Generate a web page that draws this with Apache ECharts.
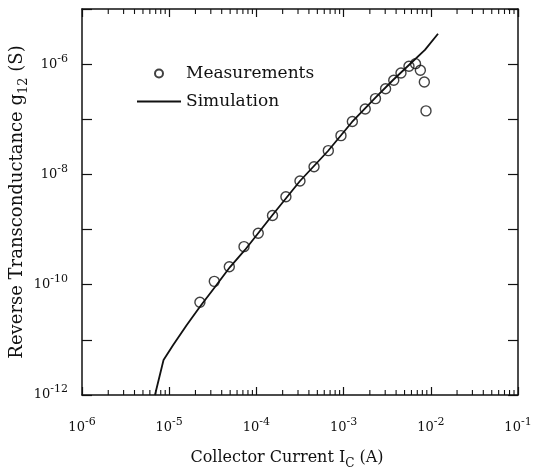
<!DOCTYPE html>
<html>
<head>
<meta charset="utf-8">
<script src="https://cdn.jsdelivr.net/npm/echarts@6/dist/echarts.min.js"></script>
<style>
html, body { margin: 0; padding: 0; background: #fff; }
#chart { width: 536px; height: 473px; }
</style>
</head>
<body>
<div id="chart"></div>
<script>
// measured points: collector current (A) and reverse transconductance (S)
var measCurrent = [2.25e-5, 3.29e-5, 4.89e-5, 7.21e-5, 1.05e-4, 1.53e-4, 2.18e-4, 3.16e-4,
    4.58e-4, 6.68e-4, 9.33e-4, 1.26e-3, 1.77e-3, 2.32e-3, 3.03e-3, 3.76e-3,
    4.55e-3, 5.62e-3, 6.68e-3, 7.59e-3, 8.43e-3, 8.81e-3];
var measG12 = [4.8e-11, 1.15e-10, 2.12e-10, 4.9e-10, 8.6e-10, 1.8e-9, 3.94e-9, 7.6e-9,
    1.38e-8, 2.7e-8, 5.05e-8, 9.1e-8, 1.54e-7, 2.37e-7, 3.57e-7, 5.09e-7,
    6.92e-7, 9.14e-7, 1.02e-6, 7.74e-7, 4.74e-7, 1.42e-7];

// simulated curve
var simCurrent = [6.87e-6, 8.61e-6, 1.11e-5, 1.59e-5, 2.25e-5, 3.35e-5, 4.98e-5, 7.39e-5,
    1.53e-4, 3.16e-4, 6.62e-4, 1.25e-3, 2.29e-3, 3.69e-3, 5.62e-3, 8.57e-3, 1.21e-2];
var simG12 = [1e-12, 4.31e-12, 8.07e-12, 1.86e-11, 3.99e-11, 9.1e-11, 2.09e-10, 4.27e-10,
    1.84e-9, 7.6e-9, 2.66e-8, 8.93e-8, 2.43e-7, 5.16e-7, 9.66e-7, 1.81e-6, 3.56e-6];

// tick labels (powers of ten)
var xLabelExp = [-6, -5, -4, -3, -2, -1];
var yLabelExp = [-12, -10, -8, -6];

// minor ticks at 2..9 of each x decade
var minorTicks = [];
for (var d = -6; d < -1; d++) {
    for (var k = 2; k < 10; k++) minorTicks.push([k * Math.pow(10, d), 1e-9]);
}

var ink = '#111';
var serif = 'DejaVu Serif';

function pairs(xs, ys) {
    return xs.map(function (x, i) { return [x, ys[i]]; });
}

var powRich = {
    b: { fontFamily: serif, fontSize: 13, color: ink, lineHeight: 22 },
    s: { fontFamily: serif, fontSize: 11, color: ink, lineHeight: 12, verticalAlign: 'top' }
};

function powLabel(list) {
    return function (v) {
        var e = Math.round(Math.log10(v));
        return list.indexOf(e) >= 0 ? '{b|10}{s|' + e + '}' : '';
    };
}

var myChart = echarts.init(document.getElementById('chart'));

var option = {
    backgroundColor: '#fff',
    animation: false,
    grid: { left: 82, right: 18, top: 9, bottom: 78, outerBoundsMode: 'none' },
    legend: {
        data: ['Measurements', 'Simulation'],
        orient: 'vertical',
        left: 131,
        top: 60,
        itemWidth: 44,
        itemHeight: 8,
        itemGap: 11,
        textStyle: { fontFamily: serif, fontSize: 17, color: ink }
    },
    xAxis: [
        {
            type: 'log',
            min: 1e-6,
            max: 1e-1,
            position: 'bottom',
            axisLine: { lineStyle: { color: ink, width: 1.5 } },
            axisTick: { inside: true, length: 8, lineStyle: { color: ink, width: 1.2 } },
            splitLine: { show: false },
            axisLabel: { margin: 22, formatter: powLabel(xLabelExp), rich: powRich },
            name: '{a|Collector Current I}{c|C}{a| (A)}',
            nameLocation: 'middle',
            nameGap: 51,
            nameMoveOverlap: false,
            nameTextStyle: {
                padding: [0, 26, 0, 0],
                rich: {
                    a: { fontFamily: serif, fontSize: 16, color: ink, lineHeight: 24 },
                    c: { fontFamily: serif, fontSize: 12, color: ink, lineHeight: 12, verticalAlign: 'bottom' }
                }
            }
        },
        {
            type: 'log',
            min: 1e-6,
            max: 1e-1,
            position: 'top',
            axisLine: { lineStyle: { color: ink, width: 1.5 } },
            axisTick: { inside: true, length: 8, lineStyle: { color: ink, width: 1.2 } },
            splitLine: { show: false },
            axisLabel: { show: false }
        }
    ],
    yAxis: [
        {
            type: 'log',
            min: 1e-12,
            max: 1e-5,
            position: 'left',
            axisLine: { lineStyle: { color: ink, width: 1.5 } },
            axisTick: { inside: true, length: 10, lineStyle: { color: ink, width: 1.2 } },
            splitLine: { show: false },
            axisLabel: { margin: 14, formatter: powLabel(yLabelExp), rich: powRich },
            name: '{a|Reverse Transconductance g}{c|12}{a| (S)}',
            nameLocation: 'middle',
            nameGap: 52,
            nameMoveOverlap: false,
            nameTextStyle: {
                rich: {
                    a: { fontFamily: serif, fontSize: 18, color: ink, lineHeight: 26 },
                    c: { fontFamily: serif, fontSize: 13, color: ink, lineHeight: 13, verticalAlign: 'bottom' }
                }
            }
        },
        {
            type: 'log',
            min: 1e-12,
            max: 1e-5,
            position: 'right',
            axisLine: { lineStyle: { color: ink, width: 1.5 } },
            axisTick: { inside: true, length: 10, lineStyle: { color: ink, width: 1.2 } },
            splitLine: { show: false },
            axisLabel: { show: false }
        }
    ],
    series: [
        {
            name: 'Simulation',
            type: 'line',
            data: pairs(simCurrent, simG12),
            symbol: 'none',
            showSymbol: false,
            itemStyle: { color: 'rgba(0,0,0,0)' },
            lineStyle: { color: ink, width: 1.8 },
            z: 2
        },
        {
            name: 'Measurements',
            type: 'scatter',
            data: pairs(measCurrent, measG12),
            symbol: 'circle',
            symbolSize: 10,
            itemStyle: { color: 'rgba(0,0,0,0)', borderColor: ink, borderWidth: 1.4 },
            z: 3
        },
        {
            name: 'minor',
            type: 'custom',
            data: minorTicks,
            silent: true,
            clip: false,
            renderItem: function (params, api) {
                var x = api.coord([api.value(0), api.value(1)])[0];
                var r = params.coordSys;
                var st = { stroke: ink, lineWidth: 1.1 };
                return {
                    type: 'group',
                    children: [
                        { type: 'line', shape: { x1: x, y1: r.y + r.height, x2: x, y2: r.y + r.height - 5 }, style: st },
                        { type: 'line', shape: { x1: x, y1: r.y, x2: x, y2: r.y + 5 }, style: st }
                    ]
                };
            }
        }
    ]
};

myChart.setOption(option);
</script>
</body>
</html>
